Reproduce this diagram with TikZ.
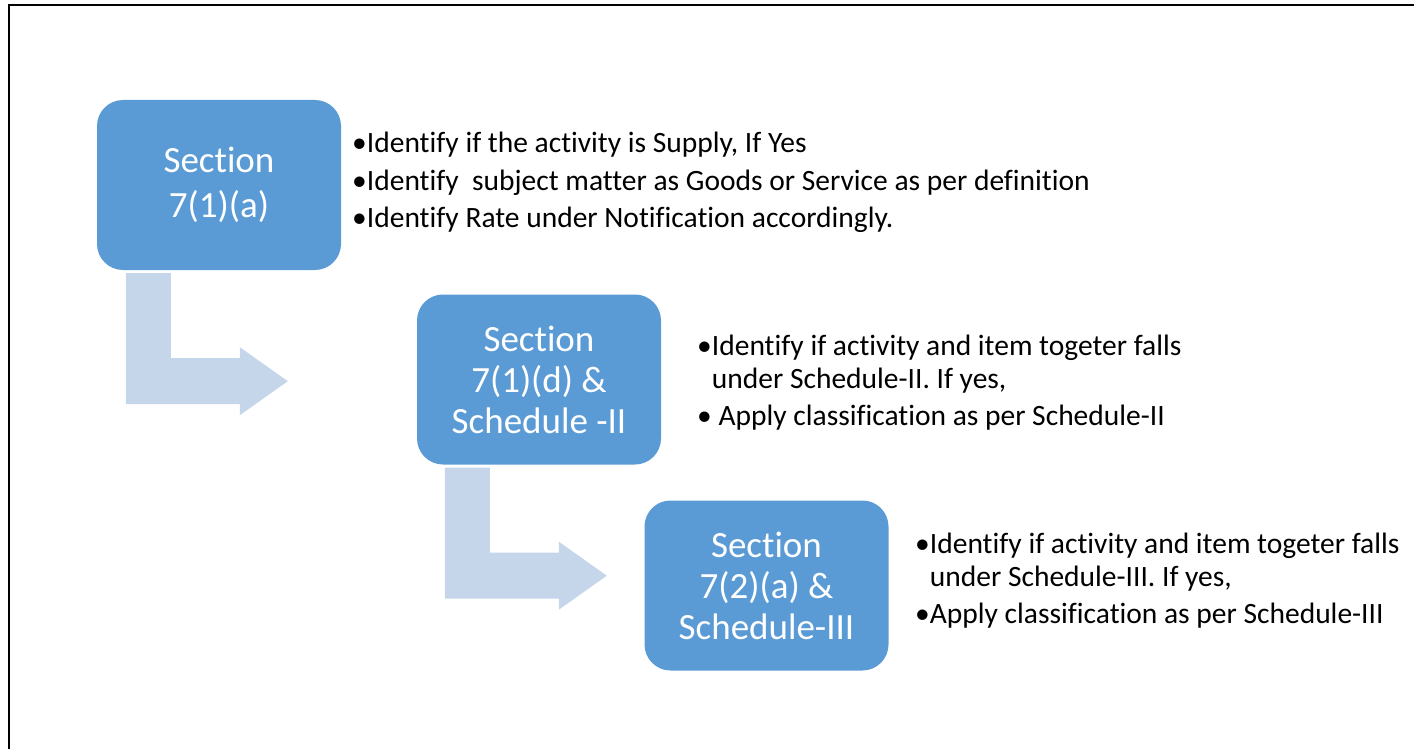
\documentclass[tikz,border=0pt]{standalone}
\usepackage{fontspec}
\setmainfont{Carlito}[Ligatures=NoCommon]
\usepackage{xcolor}
\definecolor{secBlue}{HTML}{5B9BD5}
\definecolor{arrowBlue}{HTML}{C5D5EA}

\begin{document}
\begin{tikzpicture}[x=1pt,y=-1pt]
    \tikzset{
        secbox/.style={fill=secBlue, rounded corners=26pt, text=white, align=center, inner sep=0pt,
            minimum width=244pt, minimum height=170pt},
        pointtext/.style={anchor=north west, align=left, inner sep=0pt, font=\fontsize{29.5}{33}\selectfont},
        bentarrow/.pic={
            \fill[arrowBlue] (0,0) --++(45,0) --++(0,85) --++(69,0) --++(0,-11) --++(48,34) --++(-48,34) --++(0,-11) --++(-114,0) --cycle;
        }
    };
    \useasboundingbox (0,0) rectangle (1414,749);
    \draw[line width=2pt] (1414,5) -- (8.5,5) -- (8.5,749);

    \node[secbox, font=\fontsize{37}{45}\selectfont] (s1) at (219,185) {Section\\7(1)(a)};
    \node[secbox, font=\fontsize{37}{41}\selectfont] (s2) at (539,379.5) {Section\\7(1)(d) \&\\Schedule -II};
    \node[secbox, font=\fontsize{37}{41}\selectfont] (s3) at (766.5,585.5) {Section\\7(2)(a) \&\\Schedule-III};

    \pic at ([shift={(29,3)}]s1.south west) {bentarrow};
    \pic at ([shift={(28,3)}]s2.south west) {bentarrow};

    \node[pointtext] (p1) at (352,132) {•Identify if the activity is Supply, If Yes\\[4.5pt]
        •Identify\ \ subject matter as Goods or Service as per definition\\[4.5pt]
        •Identify Rate under Notification accordingly.};
    \node[pointtext] (p2) at (697,335) {•Identify if activity and item togeter falls\\
        \phantom{•}under Schedule-II. If yes,\\[4pt]
        • Apply classification as per Schedule-II};
    \node[pointtext] (p3) at (915,533) {•Identify if activity and item togeter falls\\
        \phantom{•}under Schedule-III. If yes,\\[3.5pt]
        •Apply classification as per Schedule-III};
\end{tikzpicture}
\end{document}
